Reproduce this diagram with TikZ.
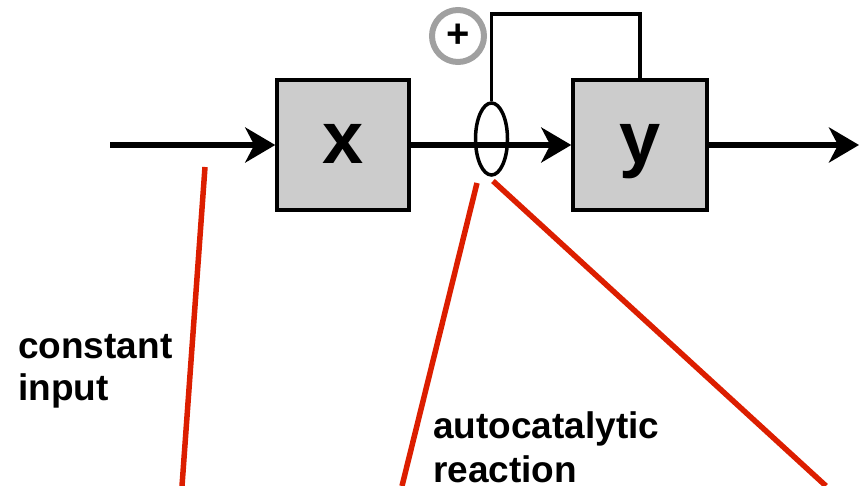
\documentclass[tikz,border=0pt]{standalone}
\usepackage{fontspec}
\setmainfont{Liberation Sans}
\usetikzlibrary{shapes,arrows.meta,positioning}

\definecolor{pointred}{RGB}{220,30,0}
\definecolor{ringgray}{RGB}{160,160,160}

\begin{document}
\begin{tikzpicture}[
    x=1pt, y=-1pt,
    node distance=148.5pt,
    >={Stealth[length=30pt,width=35pt,inset=9pt]},
    every node/.style={align=center}
]

% Define styles
\tikzstyle{block} = [rectangle, draw, line width=3.5pt, fill=black!20,
    minimum width=132pt, minimum height=130pt, inner sep=0pt,
    text height=38pt, text depth=0pt, font=\fontsize{74}{74}\selectfont\bfseries]
\tikzstyle{line} = [draw, line width=5.5pt, ->]
\tikzstyle{thin} = [draw, line width=3.5pt]
\tikzstyle{pointer} = [draw=pointred, line width=5.5pt]
\tikzstyle{label} = [align=left, anchor=north west, inner sep=0pt,
    font=\fontsize{37}{42}\selectfont\bfseries]

\useasboundingbox (0,0) rectangle (859,486);

% Nodes
\node [block] (xbox) at (343,145) {x};
\node [ellipse, thin, minimum width=32pt, minimum height=72pt, inner sep=0pt,
    right of=xbox, yshift=6pt] (cat) {};
\node [block, minimum width=134pt, right of=cat, yshift=-6pt] (ybox) {y};
\node [circle, draw=ringgray, line width=6pt, minimum size=52pt, inner sep=0pt,
    font=\fontsize{40}{40}\selectfont\bfseries] (plus) at (458,36) {+};
\coordinate (in) at (110,145);
\coordinate (out) at (859,145);
\coordinate (top) at (640,14);

% Paths
\path [line] (in) -- (xbox);
\path [line] (xbox) -- (ybox);
\path [line] (ybox) -- (out);
\path [thin] (cat.north) |- (top) -- (ybox.north);

% Pointers
\coordinate (p1) at (205,167);
\coordinate (p2) at (477,183);
\coordinate (p3) at (493,181);
\coordinate (e1) at (182,486);
\coordinate (e2) at (402,486);
\coordinate (e3) at (826,486);
\path [pointer] (p1) -- (e1);
\path [pointer] (p2) -- (e2);
\path [pointer] (p3) -- (e3);

% Labels
\node [label] (inputlabel) at (18,334) {constant\\input};
\node [label] (reactlabel) at (433,411) {autocatalytic\\[2pt]reaction};

\end{tikzpicture}
\end{document}
